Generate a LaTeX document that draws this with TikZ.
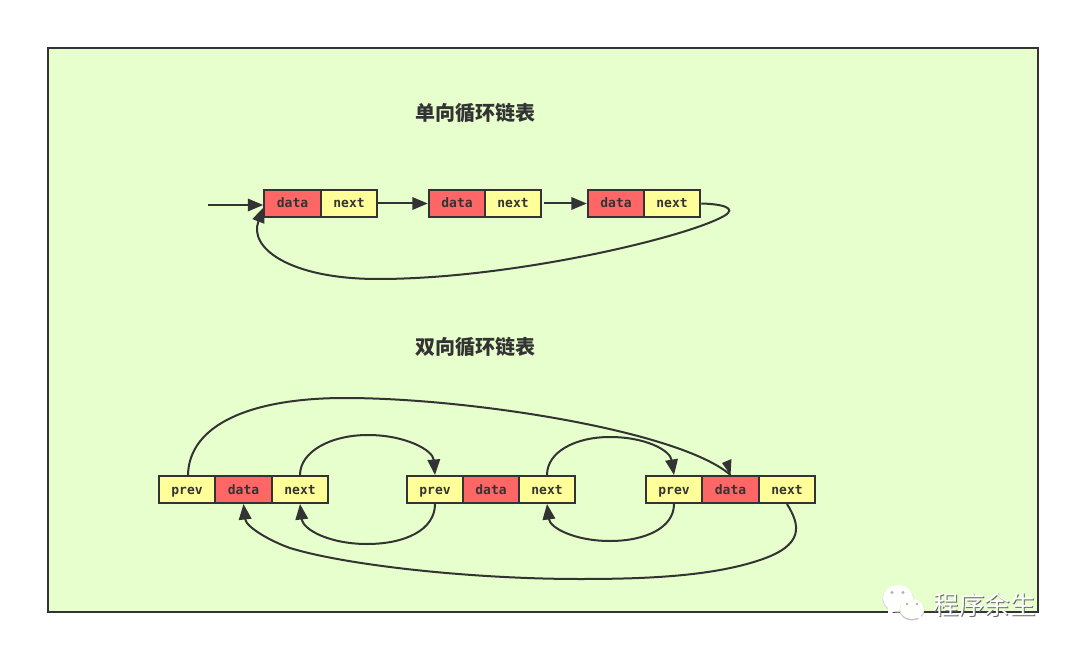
\documentclass[tikz,border=0pt]{standalone}
\usepackage{fontspec}
\newfontfamily\cjk{Noto Sans CJK SC}
\newfontfamily\cellfont{DejaVu Sans Mono}
\usetikzlibrary{arrows.meta}
\definecolor{ink}{HTML}{333333}
\definecolor{paneg}{HTML}{E6FFCC}
\definecolor{cellr}{HTML}{FF6666}
\definecolor{celly}{HTML}{FFFF99}
\tikzset{
  cell/.style={draw=ink,line width=2pt,minimum height=27pt,inner sep=0pt,text=ink,text height=9pt,text depth=0pt,
    font=\cellfont\bfseries\fontsize{13}{14}\selectfont,anchor=center},
  reddata/.style={cell,fill=cellr,minimum width=56.5pt},
  yelcell/.style={cell,fill=celly,minimum width=56.5pt},
  link/.style={draw=ink,line width=2pt,-{Triangle[length=15.5pt,width=12.5pt]}},
  plainlink/.style={draw=ink,line width=2pt},
  heading/.style={text=ink,font=\cjk\bfseries\fontsize{20}{24}\selectfont},
}
\begin{document}
\begin{tikzpicture}[x=1pt,y=-1pt]
\useasboundingbox (0,0) rectangle (1070,652);
\node[draw=ink,line width=2pt,fill=paneg,minimum width=990pt,minimum height=564pt,inner sep=0pt] (frame) at (543,330) {};
\node[heading] (t1) at (475,112.7) {单向循环链表};
\node[heading] (t2) at (475,346.7) {双向循环链表};
% single list
\node[reddata] (sd1) at (292.5,203.5) {data};
\node[yelcell] (sn1) at (349,203.5) {next};
\node[reddata] (sd2) at (457,203.5) {data};
\node[yelcell] (sn2) at (513,203.5) {next};
\node[reddata] (sd3) at (616,203.5) {data};
\node[yelcell] (sn3) at (672,203.5) {next};
\coordinate (start) at (208,205);
\coordinate (sdtip) at (264,207);
\draw[link] (start) -- (sd1.west |- start);
\draw[link] (sn1.east) -- (sd2.west);
\draw[link,shorten <=2pt] (sn2.east) -- (sd3.west);
\draw[link] (sn3.east) .. controls (722,204) and (738,208) .. (724,216)
  .. controls (685,238) and (510,279) .. (378,279)
  .. controls (290,279) and (248,248) .. (sdtip);
% double list
\node[yelcell] (p1) at (187,489.5) {prev};
\node[reddata] (d1) at (243.5,489.5) {data};
\node[yelcell] (n1) at (300,489.5) {next};
\node[yelcell] (p2) at (435,489.5) {prev};
\node[reddata] (d2) at (491,489.5) {data};
\node[yelcell] (n2) at (547,489.5) {next};
\node[yelcell] (p3) at (674,489.5) {prev};
\node[reddata] (d3) at (730.5,489.5) {data};
\node[yelcell] (n3) at (787,489.5) {next};
\draw[plainlink] ([xshift=1pt]p1.north) .. controls (189,425) and (250,398) .. (345,398)
  .. controls (470,398) and (680,431) .. (d3.north);
\fill[ink] (d3.north) -- (722,463) -- (731.5,459) -- cycle;
\draw[link] (n1.north) .. controls (300,452) and (330,435) .. (368,435)
  .. controls (405,435) and (433,450) .. (p2.north);
\draw[link] (p2.south) .. controls (435,530) and (405,544) .. (367,544)
  .. controls (330,544) and (303,530) .. (n1.south);
\draw[link] (n2.north) .. controls (547,452) and (575,437) .. (610,437)
  .. controls (645,437) and (670,450) .. (p3.north);
\draw[link] (p3.south) .. controls (674,528) and (645,541) .. (610,541)
  .. controls (575,541) and (550,528) .. (n2.south);
\draw[link] (n3.south) .. controls (800,525) and (805,545) .. (760,560)
  .. controls (710,577) and (640,579) .. (580,579)
  .. controls (470,579) and (345,565) .. (290,548)
  .. controls (270,541) and (246,527) .. (d1.south);
% watermark
\fill[gray!30] (898,599) ellipse (15.5pt and 13.5pt);
\fill[white] (898,598) ellipse (15pt and 13pt);
\fill[white] (888,608) -- (888,615) -- (897,610) -- cycle;
\fill[gray!45] (912,610) ellipse (12.5pt and 10.5pt);
\fill[white!92!paneg] (912,609) ellipse (12pt and 10pt);
\fill[white!92!paneg] (916,616) -- (922,621) -- (920,612) -- cycle;
\fill[gray!60] (892,592.5) circle (1.6pt) (903,592.5) circle (1.6pt) (907,604) circle (1.3pt) (917,604) circle (1.3pt);
\node[text=ink!75,font=\cjk\fontsize{25.5}{28}\selectfont,anchor=center] (wms) at (985.5,605.5) {程序余生};
\node[text=white,font=\cjk\fontsize{25.5}{28}\selectfont,anchor=center] (wm) at (984.5,604.5) {程序余生};
\end{tikzpicture}
\end{document}
